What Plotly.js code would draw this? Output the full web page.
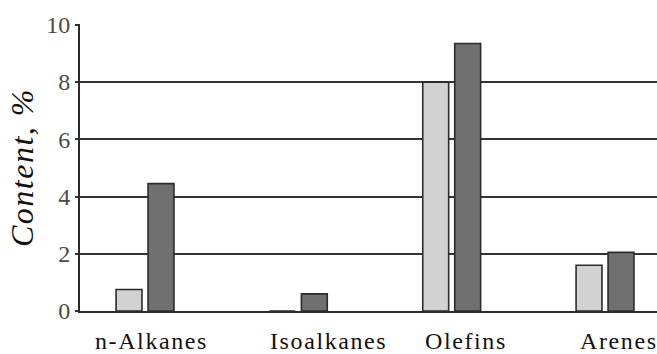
<!DOCTYPE html>
<html>
<head>
<meta charset="utf-8">
<script src="https://cdn.plot.ly/plotly-3.0.1.min.js"></script>
<style>
  html, body { margin: 0; padding: 0; background: #fff; }
  #chart { width: 657px; height: 354px; }
  .ytitle { letter-spacing: 1.5px; }
  .annotation-text { letter-spacing: 1.6px; }
</style>
</head>
<body>
<div id="chart"></div>
<script>
// Hydrocarbon group content, two samples per group
const categories = ['n-Alkanes', 'Isoalkanes', 'Olefins', 'Arenes'];
const sampleA = [0.75, 0, 8.0, 1.6];
const sampleB = [4.45, 0.6, 9.35, 2.05];
const yTicks = [0, 2, 4, 6, 8, 10];

// horizontal nudges for the category captions (px)
const captionShift = [6, 30, 14, 14];

const outline = { color: '#2b2b2b', width: 1.6 };
const serif = 'Liberation Serif, Times New Roman, serif';

const traces = [
  { type: 'bar', x: categories, y: sampleA, marker: { color: '#d2d2d2', line: outline }, hoverinfo: 'skip' },
  { type: 'bar', x: categories, y: sampleB, marker: { color: '#707070', line: outline }, hoverinfo: 'skip' }
];

const captions = categories.map((c, i) => ({
  text: c, x: c, xref: 'x', y: 0, yref: 'paper',
  yanchor: 'middle', xanchor: 'center', yshift: -30, xshift: captionShift[i],
  showarrow: false, font: { family: serif, size: 24, color: '#111' }
}));

const layout = {
  width: 657, height: 354,
  margin: { l: 80, r: 0, t: 24, b: 43 },
  paper_bgcolor: '#fff', plot_bgcolor: '#fff',
  showlegend: false,
  barmode: 'group', bargap: 0.583, bargroupgap: 0.19,
  xaxis: {
    type: 'category', range: [-0.424, 3.339],
    showticklabels: false, ticks: '', showgrid: false, zeroline: false,
    showline: true, linecolor: '#2b2b2b', linewidth: 2, fixedrange: true
  },
  yaxis: {
    range: [0, 10.03], tickvals: yTicks, ticktext: yTicks.map(String),
    ticks: 'outside', ticklen: 3, tickwidth: 2, tickcolor: '#333',
    showgrid: true, gridcolor: '#333', gridwidth: 2, zeroline: false,
    showline: true, linecolor: '#2b2b2b', linewidth: 2,
    tickfont: { family: serif, size: 24, color: '#4a4a4a' },
    title: { text: 'Content, %', standoff: 3, font: { family: serif, size: 32, color: '#111', style: 'italic' } },
    fixedrange: true
  },
  annotations: captions
};

Plotly.newPlot('chart', traces, layout, { staticPlot: true, displayModeBar: false });
</script>
</body>
</html>
